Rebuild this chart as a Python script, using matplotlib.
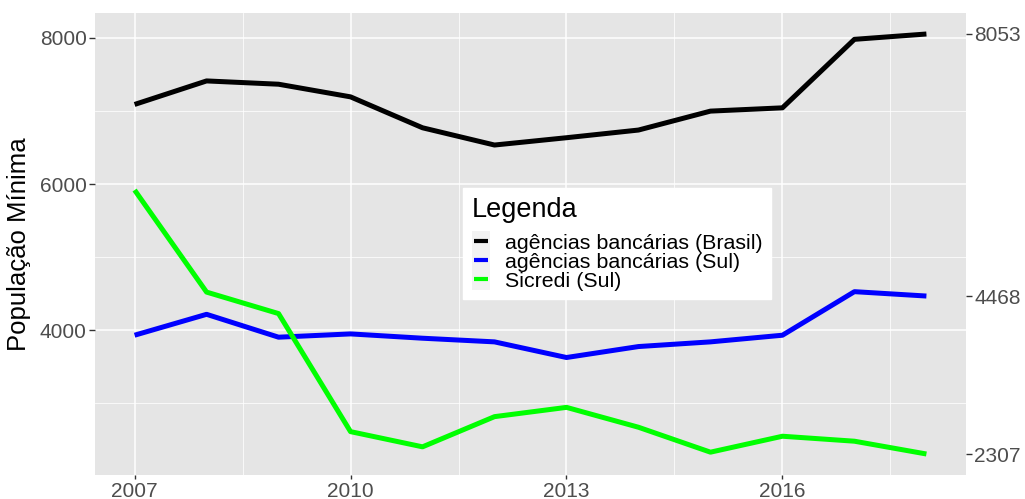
import matplotlib
matplotlib.use("Agg")
import matplotlib.pyplot as plt
from matplotlib.legend_handler import HandlerLine2D
from matplotlib.lines import Line2D
from matplotlib.patches import Rectangle
from matplotlib.ticker import MultipleLocator

years = list(range(2007, 2019))
brasil = [7089, 7411, 7366, 7193, 6770, 6534, 6634, 6739, 6998, 7043, 7980, 8053]
sul = [3932, 4218, 3905, 3950, 3891, 3841, 3627, 3777, 3841, 3932, 4528, 4468]
sicredi = [5918, 4522, 4228, 2613, 2405, 2818, 2945, 2673, 2332, 2550, 2482, 2307]
labels = ["agências bancárias (Brasil)", "agências bancárias (Sul)", "Sicredi (Sul)"]
colors = ["#000000", "#0000FF", "#00FF00"]
left_ticks = [4000, 6000, 8000]
right_ticks = [2307, 4468, 8053]
x_ticks = [2007, 2010, 2013, 2016]

plt.rcParams['font.family'] = ['Liberation Sans', 'DejaVu Sans']

fig = plt.figure(figsize=(10.25, 4.99), dpi=100)
ax = fig.add_axes([95/1025, 24/499, 871/1025, 462/499])
ax.set_facecolor("#E5E5E5")
for s in ax.spines.values():
    s.set_visible(False)

ax.set_xticks(x_ticks)
ax.xaxis.set_minor_locator(MultipleLocator(1.5))
ax.set_yticks(left_ticks)
ax.yaxis.set_minor_locator(MultipleLocator(1000))
ax.grid(True, which='major', color='white', linewidth=1.1)
ax.grid(True, which='minor', color='white', linewidth=0.55)
ax.set_axisbelow(True)

for vals, c, lab in zip([brasil, sul, sicredi], colors, labels):
    ax.plot(years, vals, color=c, linewidth=3.6, label=lab, solid_capstyle='butt')

ax.margins(x=0.05, y=0.05)
ax.tick_params(axis='y', which='major', labelsize=15, labelcolor='#4D4D4D',
               color='#333333', length=4, width=1, pad=2)
ax.tick_params(axis='x', which='major', labelsize=15, labelcolor='#4D4D4D',
               color='#333333', length=3, width=1, pad=2)
ax.tick_params(axis='both', which='minor', length=0)
ax.set_ylabel("População Mínima", fontsize=18.5, labelpad=6)

ax2 = ax.twinx()
ax2.set_ylim(ax.get_ylim())
ax2.set_yticks(right_ticks)
for s in ax2.spines.values():
    s.set_visible(False)
ax2.tick_params(axis='y', labelsize=15, labelcolor='#4D4D4D', color='#333333',
                length=4, width=1, pad=2)


class KeyHandler(HandlerLine2D):
    def create_artists(self, legend, orig_handle, xdescent, ydescent, width, height, fontsize, trans):
        rect = Rectangle((-xdescent, -ydescent - 2), width, height + 4, facecolor='#F2F2F2',
                         edgecolor='none', transform=trans)
        line = Line2D([-xdescent + 1.5, -xdescent + width - 1.5],
                      [-ydescent + height / 2, -ydescent + height / 2],
                      color=orig_handle.get_color(), linewidth=orig_handle.get_linewidth(),
                      solid_capstyle='butt', transform=trans)
        return [rect, line]

handles = [Line2D([], [], color=c, linewidth=3.0) for c in colors]
leg = ax.legend(handles=handles, labels=labels, title="Legenda", loc='upper left',
                bbox_to_anchor=(0.4225, 0.621), borderaxespad=0, fontsize=15.4,
                title_fontsize=19.5, frameon=True, fancybox=False, framealpha=1,
                edgecolor='white', handlelength=0.85, handletextpad=0.7, labelspacing=0.0,
                borderpad=0.4, handler_map={h: KeyHandler() for h in handles})
leg._legend_box.align = "left"
leg._legend_box.sep = 8

fig.savefig("out.png", dpi=100)
